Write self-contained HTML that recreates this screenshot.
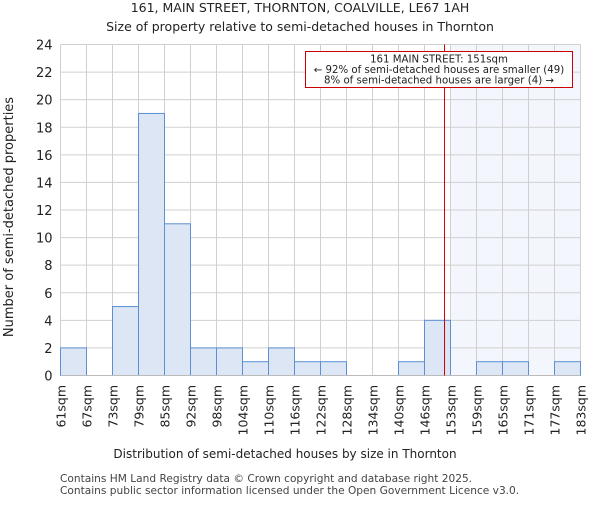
<!DOCTYPE html>
<html><head><meta charset="utf-8"><style>body{margin:0;background:#fff}svg{font-family:"DejaVu Sans","Liberation Sans",sans-serif}</style></head>
<body>
<svg id="c" width="600" height="500" viewBox="0 0 600 500">
<text x="300" y="12" text-anchor="middle" font-size="12.5" fill="#222">161, MAIN STREET, THORNTON, COALVILLE, LE67 1AH</text>
<text x="300" y="31" text-anchor="middle" font-size="12.5" fill="#222">Size of property relative to semi-detached houses in Thornton</text>
<g id="grid"></g><g id="bars"></g><g id="axes"></g>
<text x="285" y="458" text-anchor="middle" font-size="12" fill="#222">Distribution of semi-detached houses by size in Thornton</text>
<text transform="translate(13,217) rotate(-90)" text-anchor="middle" font-size="13" fill="#222">Number of semi-detached properties</text>
<text x="60" y="482" font-size="10.6" fill="#444">Contains HM Land Registry data © Crown copyright and database right 2025.</text>
<text x="60" y="494" font-size="10.6" fill="#444">Contains public sector information licensed under the Open Government Licence v3.0.</text>
</svg>
<script>
const binLabels=["61sqm","67sqm","73sqm","79sqm","85sqm","92sqm","98sqm","104sqm","110sqm","116sqm","122sqm","128sqm","134sqm","140sqm","146sqm","153sqm","159sqm","165sqm","171sqm","177sqm","183sqm"];
const counts=[2,0,5,19,11,2,2,1,2,1,1,0,0,1,4,0,1,1,0,1];
const yTicks=[0,2,4,6,8,10,12,14,16,18,20,22,24];
const markerBin=14.77;
const ns="http://www.w3.org/2000/svg";
const L=60.5,R=580.5,T=44.5,B=375.5,yMax=24;
const bw=(R-L)/counts.length;
const X=i=>L+i*bw, Y=v=>B-v/yMax*(B-T);
function mk(p,t,a){const e=document.createElementNS(ns,t);for(const k in a)e.setAttribute(k,a[k]);p.appendChild(e);return e;}
const grid=document.getElementById('grid'),bars=document.getElementById('bars'),axes=document.getElementById('axes');
const sh=mk(grid,'rect',{x:X(Math.ceil(markerBin)),y:T,width:R-X(Math.ceil(markerBin)),height:B-T,fill:'#f3f6fd'});


for(let i=0;i<=counts.length;i++){const g=mk(grid,'line',{x1:X(i),x2:X(i),y1:T,y2:B,stroke:'#d0d0d0'});

}
yTicks.forEach(v=>{const g=mk(grid,'line',{x1:L,x2:R,y1:Y(v),y2:Y(v),stroke:'#d0d0d0'});


const t=mk(axes,'text',{x:L-8,y:Y(v)+5,'text-anchor':'end','font-size':13,fill:'#222'});t.textContent=v;

});
counts.forEach((c,i)=>{if(c<=0)return;const r=mk(bars,'rect',{x:X(i),y:Y(c),width:bw,height:B-Y(c),fill:'#dce6f4',stroke:'#5b8fd6','stroke-width':1});

});
binLabels.forEach((s,i)=>{const t=mk(axes,'text',{transform:`translate(${X(i)+5},385) rotate(-90)`,'text-anchor':'end','font-size':12.5,fill:'#222'});t.textContent=s;

});
const ax=mk(axes,'line',{x1:L,x2:R,y1:B,y2:B,stroke:'#bbb'});


const m=mk(axes,'line',{x1:X(markerBin),x2:X(markerBin),y1:T,y2:B,stroke:'#cc0000','stroke-width':1});


const box=mk(axes,'rect',{x:305.5,y:51.5,width:267,height:36,fill:'#fff',stroke:'#cc0000'});


["161 MAIN STREET: 151sqm","← 92% of semi-detached houses are smaller (49)","8% of semi-detached houses are larger (4) →"].forEach((s,i)=>{const t=mk(axes,'text',{x:439,y:62.5+i*10.5,'text-anchor':'middle','font-size':10.2,fill:'#222'});t.textContent=s;

});
</script>
</body></html>
